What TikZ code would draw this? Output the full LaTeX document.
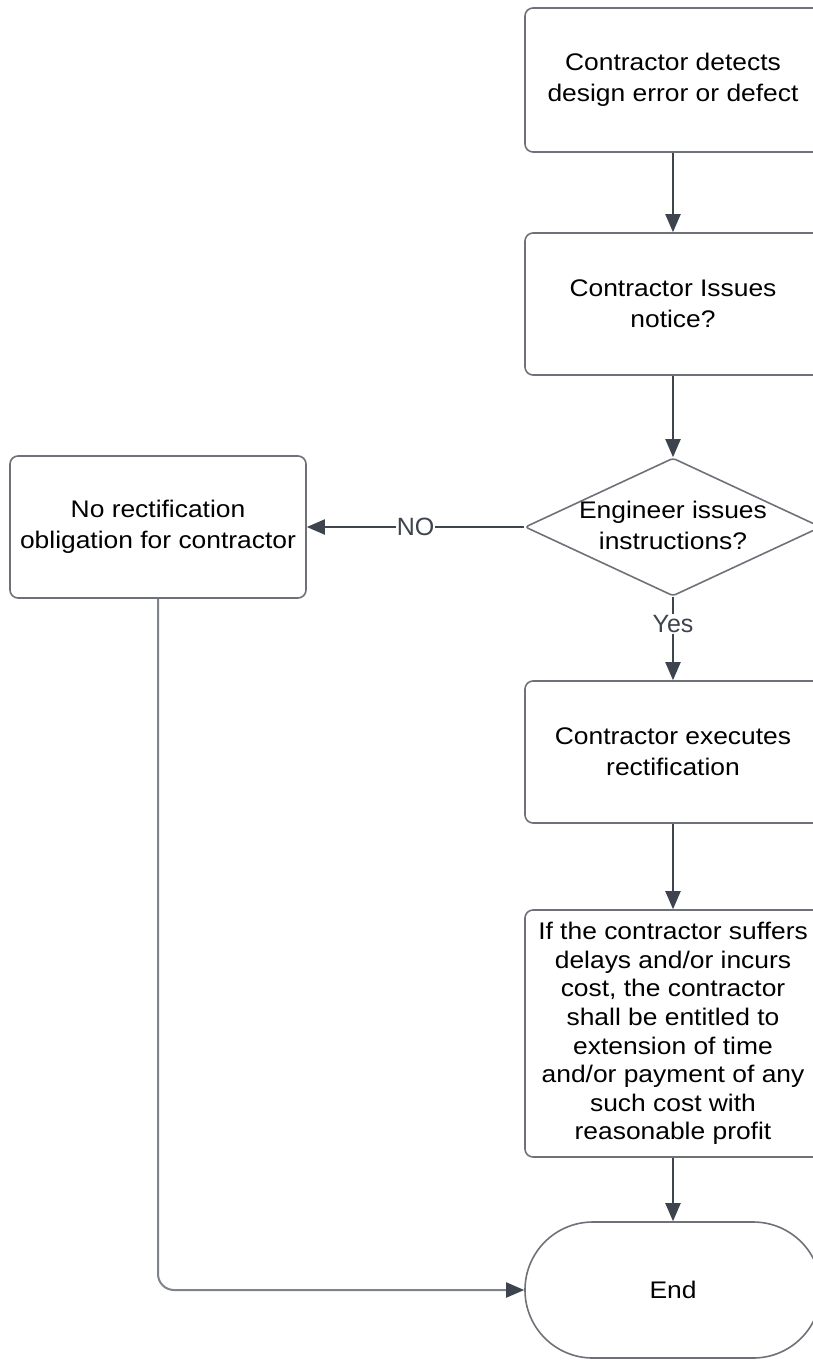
\documentclass[tikz,border=0pt]{standalone}
\usepackage{fontspec}
\setmainfont{Liberation Sans}
\newfontfamily\boxfont[FakeStretch=1.1]{Liberation Sans}
\usetikzlibrary{arrows.meta,shapes.geometric}
\definecolor{edgec}{HTML}{3E444E}
\definecolor{edgelight}{HTML}{7E838C}
\definecolor{borderc}{HTML}{6E7278}
\definecolor{labc}{HTML}{3E444E}
\begin{document}
\begin{tikzpicture}[x=0.5pt,y=-0.5pt,
  box/.style={draw=borderc, line width=0.8pt, rounded corners=4pt,
    minimum width=148pt, minimum height=71pt, align=center, inner sep=0pt,
    text=black, font=\boxfont\fontsize{12}{15.5}\selectfont},
  dia/.style={draw=borderc, line width=0.8pt, shape=diamond, rounded corners=1.5pt,
    minimum width=148pt, minimum height=69pt, inner sep=0pt},
  txt/.style={align=center, inner sep=0pt, text=black, font=\boxfont\fontsize{12}{15.5}\selectfont},
  term/.style={draw=borderc, line width=0.8pt, rounded corners=33.9pt,
    minimum width=148pt, minimum height=68pt, inner sep=0pt,
    text=black, font=\boxfont\fontsize{12}{15.5}\selectfont},
  conn/.style={draw=edgec, line width=1pt, -{Triangle[length=9pt,width=7.5pt,color=edgec]}},
  lab/.style={fill=white, inner sep=0.6pt, text=labc, font=\fontsize{12.5}{14}\selectfont}
]
\clip (0,0) rectangle (813,1360);
\node[box, minimum height=72pt] (b1) at (673,80) {Contractor detects\\design error or defect};
\node[box] (b2) at (673,304) {Contractor Issues\\notice?};
\node[dia] (d) at (673,527) {};
\node[txt] (dt) at (673,525) {Engineer issues\\instructions?};
\node[box] (nr) at (158,527) {No rectification\\obligation for contractor};
\node[box] (b4) at (673,752) {Contractor executes\\rectification};
\node[box, minimum height=123.5pt, font=\boxfont\fontsize{12}{14.3}\selectfont] (b5) at (673,1033.5)
  {If the contractor suffers\\delays and/or incurs\\cost, the contractor\\shall be entitled to\\extension of time\\and/or payment of any\\such cost with\\reasonable profit};
\node[term] (e) at (673,1290) {End};
\draw[conn] (b1) -- (b2);
\draw[conn] (b2) -- (d);
\draw[conn] (d.west) -- node[lab, pos=0.5] {NO} (nr.east);
\draw[conn] (d.south) -- node[lab, pos=0.33] {Yes} (b4.north);
\draw[conn] (b4) -- (b5);
\draw[conn] (b5) -- (e);
\draw[conn, draw=edgelight, rounded corners=8pt] (nr.south) -- (nr.south |- e.west) -- (e.west);
\end{tikzpicture}
\end{document}
